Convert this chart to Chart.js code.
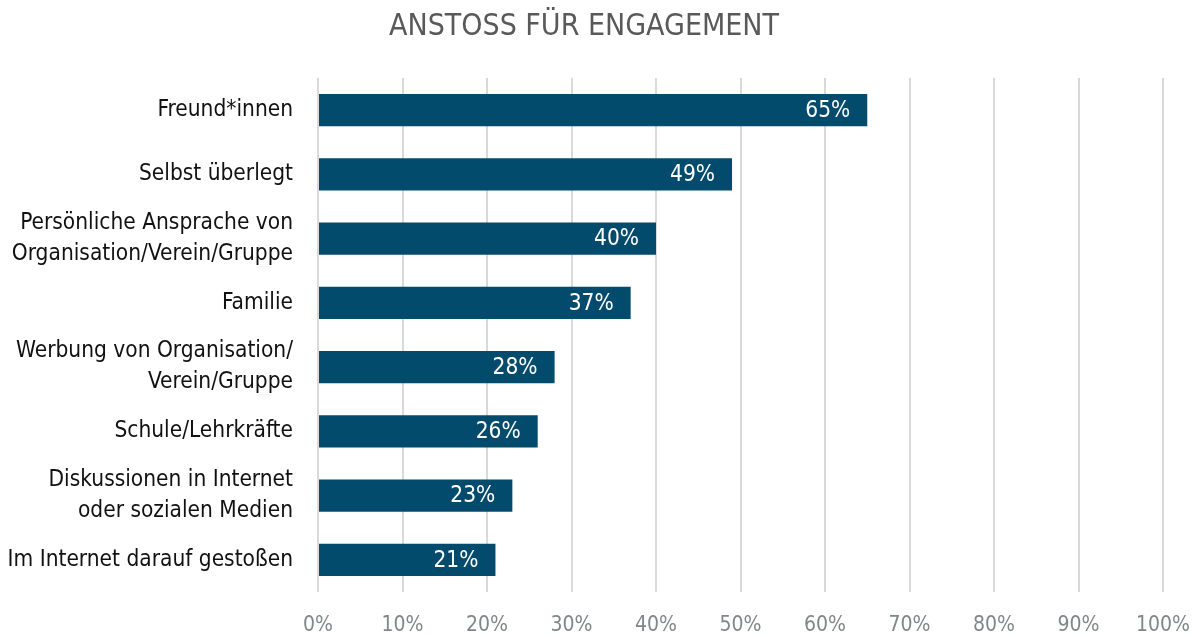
<!DOCTYPE html>
<html lang="de">
<head>
  <meta charset="UTF-8">
  <script src="https://cdn.jsdelivr.net/npm/chart.js"></script>
  <title>Anstoss für Engagement</title>
  <style>
    html, body { margin: 0; padding: 0; background: #fff; }
    #box { width: 1192px; height: 635px; }
  </style>
</head>
<body>
  <div id="box"><canvas id="myChart"></canvas></div>
<script>
  const categories = [
    'Freund*innen',
    'Selbst überlegt',
    ['Persönliche Ansprache von', 'Organisation/Verein/Gruppe'],
    'Familie',
    ['Werbung von Organisation/', 'Verein/Gruppe'],
    'Schule/Lehrkräfte',
    ['Diskussionen in Internet', 'oder sozialen Medien'],
    'Im Internet darauf gestoßen'
  ];
  const values = [65, 49, 40, 37, 28, 26, 23, 21];
  const xTicks = [0, 10, 20, 30, 40, 50, 60, 70, 80, 90, 100];

  const FONT = "'Liberation Sans Narrow', 'Arial Narrow', 'DejaVu Sans Condensed', sans-serif";

  // white % labels at the inner end of each bar
  const barLabels = {
    id: 'barLabels',
    afterDatasetsDraw(chart) {
      const ctx = chart.ctx;
      const meta = chart.getDatasetMeta(0);
      ctx.save();
      ctx.fillStyle = '#ffffff';
      ctx.font = '22.5px ' + FONT;
      ctx.textAlign = 'right';
      ctx.textBaseline = 'middle';
      meta.data.forEach((bar, i) => {
        ctx.fillText(values[i] + '%', bar.x - 17, bar.y + 1);
      });
      ctx.restore();
    }
  };

  const config = {
    type: 'bar',
    data: {
      labels: categories,
      datasets: [{
        data: values,
        backgroundColor: '#034B6C',
        borderWidth: 0,
        categoryPercentage: 1,
        barPercentage: 0.5
      }]
    },
    plugins: [barLabels],
    options: {
      indexAxis: 'y',
      responsive: true,
      maintainAspectRatio: false,
      animation: false,
      // right padding also nudges the title a bit left, as in the original
      layout: { padding: { left: 0, right: 24, top: 0, bottom: 0 } },
      plugins: {
        legend: { display: false },
        tooltip: { enabled: false },
        title: {
          display: true,
          text: 'ANSTOSS FÜR ENGAGEMENT',
          color: '#595959',
          font: { family: FONT, size: 30, weight: 'normal', lineHeight: 1.2 },
          padding: { top: 9, bottom: 33 }
        }
      },
      scales: {
        x: {
          min: 0,
          max: 100,
          afterBuildTicks(scale) {
            scale.ticks = xTicks.map(v => ({ value: v }));
          },
          afterFit(scale) {
            scale.height = 43;
            scale.paddingLeft = 0;
            scale.paddingRight = 29;
          },
          grid: { color: '#d9d9d9', lineWidth: 2, drawTicks: false },
          border: { display: false },
          ticks: {
            color: '#7f8788',
            padding: 21,
            maxRotation: 0,
            font: { family: FONT, size: 21 },
            callback: v => v + '%'
          }
        },
        y: {
          afterFit(scale) { scale.width = 318; },
          grid: { display: false, drawTicks: false },
          border: { display: false },
          ticks: {
            color: '#111111',
            padding: 25,
            autoSkip: false,
            font: { family: FONT, size: 22.5, lineHeight: 1.38 }
          }
        }
      }
    }
  };

  new Chart(document.getElementById('myChart'), config);
</script>
</body>
</html>
